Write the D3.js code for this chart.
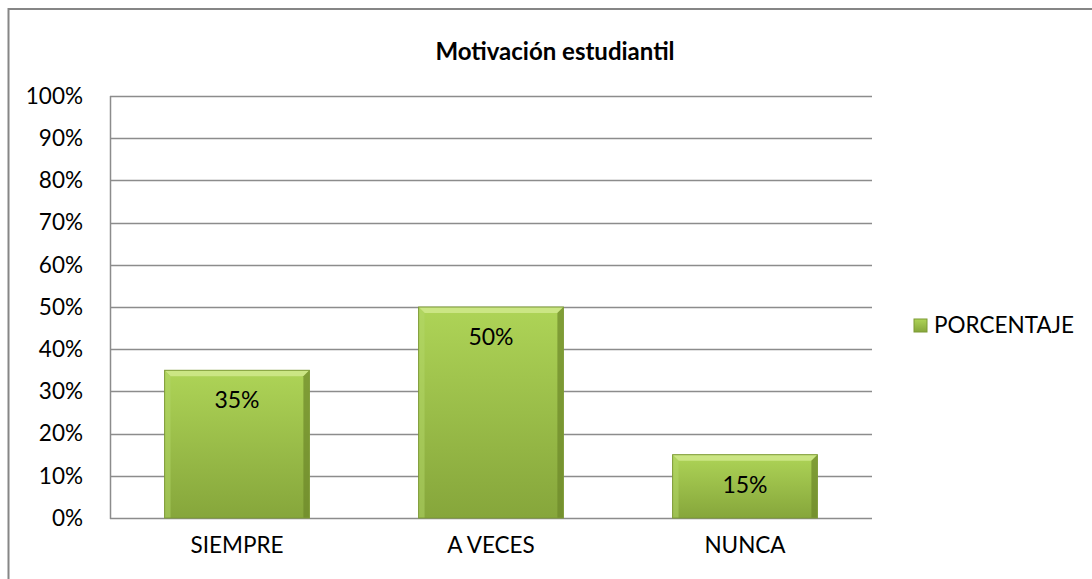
<!DOCTYPE html>
<html>
<head>
<meta charset="utf-8">
<script src="https://cdn.jsdelivr.net/npm/d3@7"></script>
<style>
  body { margin: 0; background: #fff; }
  svg { display: block; font-family: Lato, "Open Sans", sans-serif; }
</style>
</head>
<body>
<div id="chart"></div>
<script>
const categories = ["SIEMPRE", "A VECES", "NUNCA"];
const percentages = [0.35, 0.50, 0.15];
const yTicks = [0, 0.1, 0.2, 0.3, 0.4, 0.5, 0.6, 0.7, 0.8, 0.9, 1.0];
const seriesName = "PORCENTAJE";
const chartTitle = "Motivación estudiantil";

const width = 1092, height = 579;
const margin = { top: 96, right: 220, bottom: 61, left: 110 };
const innerWidth = width - margin.left - margin.right;
const innerHeight = height - margin.top - margin.bottom;

const svg = d3.select("#chart")
    .append("svg")
    .attr("width", width)
    .attr("height", height);

// gradient for bars
const defs = svg.append("defs");
const grad = defs.append("linearGradient")
    .attr("id", "barGrad")
    .attr("x1", 0).attr("y1", 0).attr("x2", 0).attr("y2", 1);
grad.append("stop").attr("offset", "0%").attr("stop-color", "#aed457");
grad.append("stop").attr("offset", "100%").attr("stop-color", "#86a63b");

// outer chart border
svg.append("rect")
    .attr("x", 8.5)
    .attr("y", 9)
    .attr("width", width + 10)
    .attr("height", height + 10)
    .attr("fill", "none")
    .attr("stroke", "#868686")
    .attr("stroke-width", 2);

const inner = svg.append("g")
    .attr("transform", `translate(${margin.left},${margin.top})`);

// scales
const x = d3.scaleBand()
    .domain(categories)
    .range([0, innerWidth])
    .paddingInner(0.43)
    .paddingOuter(0.215);

const y = d3.scaleLinear()
    .domain([0, 1])
    .range([innerHeight, 0]);

// gridlines
inner.selectAll("line.grid")
    .data(yTicks)
    .join("line")
    .attr("class", "grid")
    .attr("x1", 0)
    .attr("x2", innerWidth)
    .attr("y1", d => Math.round(y(d)) + 0.5)
    .attr("y2", d => Math.round(y(d)) + 0.5)
    .attr("stroke", "#8c8c8c")
    .attr("stroke-width", 1.5);

// left axis line
inner.append("line")
    .attr("x1", 0.5).attr("x2", 0.5)
    .attr("y1", y(1)).attr("y2", y(0) + 1)
    .attr("stroke", "#8c8c8c")
    .attr("stroke-width", 1.5);

// y labels
const yAxis = inner.append("g")
    .call(d3.axisLeft(y).tickValues(yTicks).tickFormat(d3.format(".0%")).tickSize(0).tickPadding(27));
yAxis.select(".domain").remove();
yAxis.selectAll("text")
    .attr("font-size", "22.5px")
    .attr("font-family", "Lato, sans-serif")
    .attr("fill", "#000");

// x labels
const xAxis = inner.append("g")
    .attr("transform", `translate(0,${innerHeight})`)
    .call(d3.axisBottom(x).tickSize(0).tickPadding(19));
xAxis.select(".domain").remove();
xAxis.selectAll("text")
    .attr("font-size", "22.5px")
    .attr("font-family", "Lato, sans-serif")
    .attr("fill", "#000");

// bars with bevel
const bars = inner.selectAll("g.bar")
    .data(categories.map((c, i) => ({ cat: c, val: percentages[i] })))
    .join("g")
    .attr("class", "bar");

const bev = 6;
bars.append("rect")
    .attr("x", d => x(d.cat))
    .attr("y", d => y(d.val))
    .attr("width", x.bandwidth())
    .attr("height", d => y(0) - y(d.val))
    .attr("fill", "url(#barGrad)");

// top light edge
bars.append("polygon")
    .attr("points", d => {
        const x0 = x(d.cat), x1 = x0 + x.bandwidth(), y0 = y(d.val);
        return `${x0},${y0} ${x1},${y0} ${x1 - bev},${y0 + bev} ${x0 + bev},${y0 + bev}`;
    })
    .attr("fill", "#d0e98c")
    .attr("opacity", 0.85);

// left edge
bars.append("polygon")
    .attr("points", d => {
        const x0 = x(d.cat), y0 = y(d.val), y1 = y(0);
        return `${x0},${y0} ${x0 + bev},${y0 + bev} ${x0 + bev},${y1} ${x0},${y1}`;
    })
    .attr("fill", "#b4d86a")
    .attr("opacity", 0.5);

// right dark edge
bars.append("polygon")
    .attr("points", d => {
        const x1 = x(d.cat) + x.bandwidth(), y0 = y(d.val), y1 = y(0);
        return `${x1},${y0} ${x1 - bev},${y0 + bev} ${x1 - bev},${y1} ${x1},${y1}`;
    })
    .attr("fill", "#6c872a")
    .attr("opacity", 0.7);

// outline
bars.append("rect")
    .attr("x", d => x(d.cat))
    .attr("y", d => y(d.val))
    .attr("width", x.bandwidth())
    .attr("height", d => y(0) - y(d.val))
    .attr("fill", "none")
    .attr("stroke", "#7d9a35")
    .attr("stroke-width", 1);

// data labels
bars.append("text")
    .attr("x", d => x(d.cat) + x.bandwidth() / 2)
    .attr("y", d => y(d.val) + 38)
    .attr("text-anchor", "middle")
    .attr("font-size", "23px")
    .attr("fill", "#000")
    .text(d => d3.format(".0%")(d.val));

// title
svg.append("text")
    .attr("x", 555)
    .attr("y", 60)
    .attr("text-anchor", "middle")
    .attr("font-size", "24px")
    .attr("font-weight", "bold")
    .attr("fill", "#000")
    .text(chartTitle);

// legend
const legend = svg.append("g")
    .attr("transform", `translate(914, 319)`);
legend.append("rect")
    .attr("width", 13)
    .attr("height", 13)
    .attr("fill", "url(#barGrad)")
    .attr("stroke", "#7d9a35");
legend.append("text")
    .attr("x", 20)
    .attr("y", 14)
    .attr("font-size", "22.5px")
    .attr("fill", "#000")
    .text(seriesName);
</script>
</body>
</html>
